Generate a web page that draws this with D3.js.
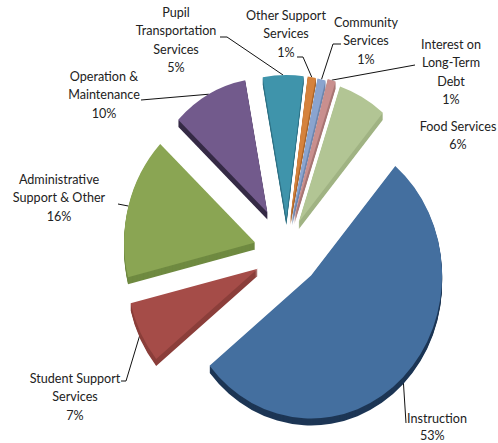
<!DOCTYPE html>
<html>
<head>
<meta charset="utf-8">
<style>
html,body{margin:0;padding:0;background:#fff}
svg{display:block}
text{font-family:"Lato","Open Sans",sans-serif;font-size:12.6px;fill:#222}
</style>
<script src="https://cdnjs.cloudflare.com/ajax/libs/d3/7.8.5/d3.min.js"></script>
</head>
<body>
<svg id="chart" width="498" height="443"></svg>
<script>
// Expenditure categories, clockwise from the Instruction slice
const categories = ["Instruction","Student Support Services","Administrative Support & Other","Operation & Maintenance","Pupil Transportation Services","Other Support Services","Community Services","Interest on Long-Term Debt","Food Services"];
const shares = [53,7,16,10,5,1,1,1,6];
const topColors = ["#446f9f","#a54c48","#8aa553","#725a8c","#3f94ab","#d5823c","#8aa4cf","#c98f8e","#b2c594"];
const wallColors = ["#1d3655","#8b3e3a","#6f8a41","#352a45","#2f7185","#a9652c","#6f86ad","#a87675","#a0b383"];

// Exploded-pie layout: radial pull per slice plus a small per-slice shift
const center = {x:285, y:245};
const explode = [40,35,33,37,28,27,27,29,26];
const shiftX = [-2,4,2,0,2,1,1,1,1];
const shiftY = [2,8,6,0,1,0,0,0,0];
const radiusScale = [1,1,1,0.94,1,1,1,1,1];
const rx = 131, ry = 143, depth = 7;
const startDeg = 40;

// Label placement: text lines, anchor point, first baseline and leader elbow
const labels = [
  {i:0, lines:["Instruction","53%"], xs:[407,420], y:422.5, step:17.5, anchor:"start", elbow:[[406,423]]},
  {i:1, lines:["Student Support","Services","7%"], x:75, y:383, elbow:[[121,381],[126,381]]},
  {i:2, lines:["Administrative","Support & Other","16%"], x:59, y:184, elbow:[[118,204]]},
  {i:3, lines:["Operation &","Maintenance","10%"], x:104, y:81, elbow:[[141,100]]},
  {i:4, lines:["Pupil","Transportation","Services","5%"], x:176, y:17, elbow:[[220,37],[227,37]]},
  {i:5, lines:["Other Support","Services","1%"], x:286, y:20, elbow:[[297,57],[303,57]]},
  {i:6, lines:["Community","Services","1%"], x:366, y:27, elbow:[[341,44],[333,44]]},
  {i:7, lines:["Interest on","Long-Term","Debt","1%"], x:451, y:49, elbow:[[415,65]]},
  {i:8, lines:["Food Services","6%"], x:458, y:131, elbow:null}
];
const lineStep = 18.3;

const svg = d3.select("#chart");
const pie = d3.pie().sort(null)
  .startAngle(startDeg*Math.PI/180)
  .endAngle((startDeg+360)*Math.PI/180);
const arcs = pie(shares);
const unit = 100;
const arcGen = d3.arc().innerRadius(0).outerRadius(unit);

function apex(d,i){
  const m = (d.startAngle+d.endAngle)/2;
  return [center.x+shiftX[i]+explode[i]*Math.sin(m), center.y+shiftY[i]-explode[i]*Math.cos(m)];
}
function rimPoint(d,i){
  const m = (d.startAngle+d.endAngle)/2, a = apex(d,i), s = radiusScale[i];
  return [a[0]+s*rx*Math.sin(m), a[1]-s*ry*Math.cos(m)];
}

// Leaders sit under the slices so they stop at the visible rim
const line = d3.line();
svg.append("g").selectAll("path").data(labels.filter(l=>l.elbow)).join("path")
  .attr("d", l => line([...l.elbow, rimPoint(arcs[l.i],l.i)]))
  .attr("fill","none").attr("stroke","#111").attr("stroke-width",1);

// Each slice: extruded wall first, then the lit top face
const slices = svg.append("g").selectAll("g").data(arcs).join("g");
slices.each(function(d,i){
  const g = d3.select(this), a = apex(d,i), s = radiusScale[i];
  const sx = s*rx/unit, sy = s*ry/unit;
  d3.range(depth,0,-1).forEach(k=>{
    g.append("path").attr("d",arcGen(d))
      .attr("transform",`translate(${a[0]},${a[1]+k}) scale(${sx},${sy})`)
      .attr("fill",wallColors[i]);
  });
  g.append("path").attr("d",arcGen(d))
    .attr("transform",`translate(${a[0]},${a[1]}) scale(${sx},${sy})`)
    .attr("fill",topColors[i]);
});

// Category labels
const txt = svg.append("g");
labels.forEach(l=>{
  const t = txt.append("text").attr("text-anchor", l.anchor || "middle");
  l.lines.forEach((s,j)=>{
    t.append("tspan").attr("x", l.xs ? l.xs[j] : l.x).attr("y", l.y+j*(l.step||lineStep)).text(s);
  });
});
</script>
</body>
</html>
